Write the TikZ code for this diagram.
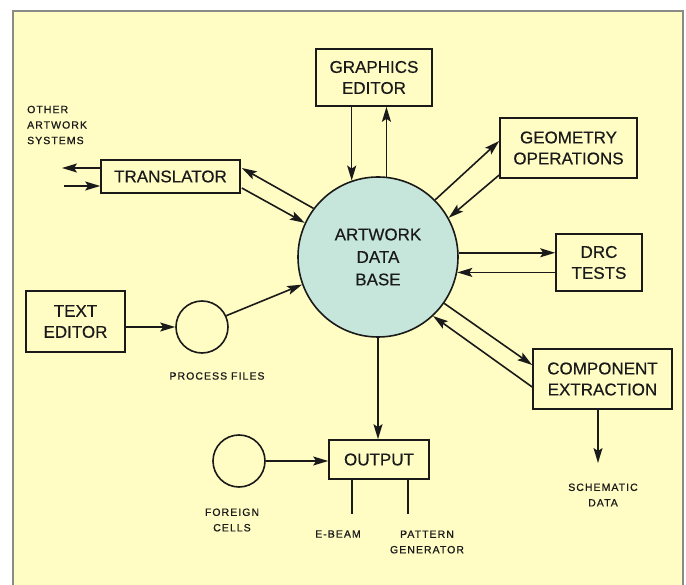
\documentclass[tikz,border=0pt]{standalone}
\usepackage{fontspec}
\setmainfont[FakeBold=0.4]{Liberation Sans}
\newfontfamily\lblfont[LetterSpace=10,FakeBold=0.8]{Liberation Sans}
\usetikzlibrary{arrows.meta,calc}
\definecolor{panel}{HTML}{FFFDC4}
\definecolor{dbfill}{HTML}{C6E6DC}
\definecolor{frame}{HTML}{8A8A86}
\definecolor{ink}{HTML}{1A1A1A}
\tikzset{
  box/.style={draw=ink,line width=1.6pt,rectangle,inner sep=0pt,align=center,
    font=\fontsize{17}{21}\selectfont,text=ink},
  ring/.style={draw=ink,line width=1.6pt,circle,inner sep=0pt},
  tip/.style={-{Stealth[length=15pt,width=9pt,inset=3pt]}},
  flow/.style={draw=ink,line width=1.6pt,tip},
  plain/.style={draw=ink,line width=1.6pt},
  lbl/.style={inner sep=0pt,align=center,text=ink,font=\lblfont\fontsize{10.5}{15.5}\selectfont}
}
\begin{document}
\begin{tikzpicture}[x=1pt,y=-1pt]
\useasboundingbox (0,0) rectangle (686,585);
\fill[white] (0,0) rectangle (686,585);
\fill[panel] (13,11) rectangle (683,590);
\draw[frame,line width=1.8pt] (13,590) -- (13,11) -- (683,11) -- (683,590);

% nodes
\node[box,minimum width=116pt,minimum height=57pt] (ge) at (374,77.5) {GRAPHICS\\EDITOR};
\node[ring,fill=dbfill,minimum size=160pt,align=center,font=\fontsize{17}{22.5}\selectfont,text=ink] (db) at (378,257) {ARTWORK\\DATA\\BASE};
\node[box,minimum width=139pt,minimum height=33pt] (tr) at (170.5,176.5) {TRANSLATOR};
\node[box,minimum width=137pt,minimum height=60pt] (go) at (568.5,148) {GEOMETRY\\OPERATIONS};
\node[box,minimum width=86pt,minimum height=57pt] (drc) at (599,262.5) {DRC\\TESTS};
\node[box,minimum width=99pt,minimum height=61pt] (te) at (75.5,321.5) {TEXT\\EDITOR};
\node[ring,minimum size=52pt] (pf) at (202,327) {};
\node[box,minimum width=139pt,minimum height=60pt] (ce) at (602.5,379) {COMPONENT\\EXTRACTION};
\node[box,minimum width=100pt,minimum height=39pt] (out) at (379,459.5) {OUTPUT};
\node[ring,minimum size=52pt] (fc) at (239,461) {};

% labels
\node[lbl,align=left,anchor=west] (oas) at (27,125) {OTHER\\ARTWORK\\SYSTEMS};
\node[lbl] (pfl) at (217,376) {PROCESS FILES};
\node[lbl] (sdl) at (603,495) {SCHEMATIC\\DATA};
\node[lbl] (fcl) at (232,520) {FOREIGN\\CELLS};
\node[lbl] (ebl) at (338,534) {E-BEAM};
\node[lbl] (pgl) at (427,542) {PATTERN\\GENERATOR};

% free ends
\coordinate (oasout) at (62,168);
\coordinate (oasin) at (64,186);
\coordinate (sd) at (598,463);
\coordinate (eb) at (352,514);
\coordinate (pg) at (408,514);

% graphics editor
\draw[flow] (ge.south -| db.109) -- (db.109);
\draw[flow] (db.84) -- (ge.south -| db.84);
% translator
\draw[flow] (tr.west |- oasout) -- (oasout);
\draw[flow] (oasin) -- (tr.west |- oasin);
\draw[flow] (db.143) -- ($(tr.east)+(1,-8.5)$);
\draw[flow] ($(tr.east)+(1,11.5)$) -- (db.155);
% geometry
\draw[flow] (db.45) -- ($(go.west)+(0,-7)$);
\draw[flow] ($(go.west)+(0,27)$) -- (db.29);
% drc
\draw[flow] (db.3) -- (db.3 -| drc.west);
\draw[flow] (db.-11.5 -| drc.west) -- (db.-11.5);
% text editor / process files
\draw[flow] (pf.west -| te.east) -- (pf.west);
\draw[flow] (pf.25) -- (db.200);
% component extraction
\draw[flow] (db.-35) -- ($(ce.west)+(0,-14)$);
\draw[flow] ($(ce.west)+(0,8)$) -- (db.-47);
\draw[flow] (sd |- ce.south) -- (sd);
% output
\draw[flow] (db.south) -- (db.south |- out.north);
\draw[flow] (fc.east) -- (fc.east -| out.west);
\draw[plain] (eb |- out.south) -- (eb);
\draw[plain] (pg |- out.south) -- (pg);
\end{tikzpicture}
\end{document}
